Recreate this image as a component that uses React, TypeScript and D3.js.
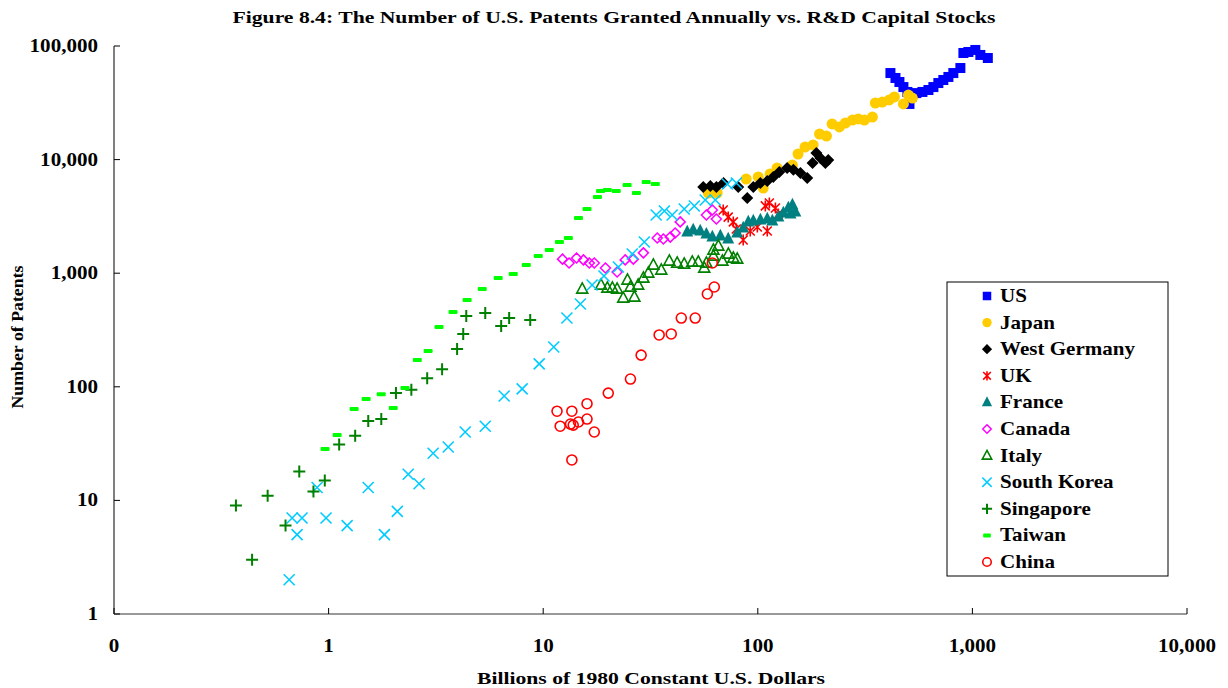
import React from "react";
import * as d3 from "d3";

type Pt = [number, number];

const US: Pt[] = [[415,57800],[438,52300],[457,48200],[477,43500],[498,39400],[520,35600],[509,30900],[548,38500],[585,39400],[624,41000],[658,43500],[694,47200],[732,50200],[773,53400],[815,57800],[879,64000],[908,86800],[958,88600],[1032,92300],[1089,83400],[1180,78400]];
const JAPAN: Pt[] = [[58.8,5080],[64.7,5080],[88.3,6750],[100.5,7030],[106,5620],[114,7470],[123,8440],[145,8960],[154,11200],[166,12900],[181,13450],[194,16800],[209,16100],[222,20600],[240,19400],[256,21000],[276,22300],[294,22800],[314,22300],[342,23700],[353,31500],[380,32100],[410,33500],[433,35600],[477,30900],[503,37000],[525,34800]];
const WGERMANY: Pt[] = [[55.7,5740],[60.1,5860],[64.1,5740],[69.2,6220],[81.1,5740],[89.3,4590],[95.3,5740],[102.8,6220],[110.7,6480],[118,7030],[126,7780],[137,8440],[146.5,8130],[158,7620],[170,6890],[180,9330],[187.5,11430],[195.6,10330],[206.5,9330],[213,9910]];
const UK: Pt[] = [[69,3600],[72.8,3120],[76.9,2830],[79.4,2450],[85.5,1960],[92.2,2350],[99.5,2550],[108.4,3910],[113.2,4150],[110.7,2350],[120.8,3750],[124.7,3320]];
const FRANCE: Pt[] = [[46.9,2310],[50,2400],[53.9,2350],[57.6,2210],[61.4,2080],[66.9,2130],[72.8,2000],[80.2,2260],[85.5,2500],[90.3,2830],[95.3,2880],[102.8,2940],[110.7,3000],[116.9,2880],[124.7,3120],[131.5,3390],[138.8,3750],[145,3990],[149.6,3460],[142,3320]];
const CANADA: Pt[] = [[12.3,1330],[13.2,1230],[14.3,1360],[15.4,1310],[16.4,1230],[17.3,1230],[19.5,1110],[22.1,1025],[24.1,1310],[26.3,1330],[29.3,1510],[34,2040],[36.3,2000],[39.1,2080],[41.2,2260],[43.5,2830],[57.6,3250],[61.4,3600],[64.1,3000]];
const ITALY: Pt[] = [[15.2,726],[18.6,787],[19.9,741],[21,741],[22.1,726],[23.6,605],[24.7,871],[25.5,756],[26.6,617],[27.7,787],[29.3,907],[30.9,1004],[32.6,1181],[35.5,1067],[38.7,1280],[42.1,1230],[45.4,1205],[49.5,1255],[52.8,1255],[56.3,1111],[57.6,1230],[62.1,1600],[65.5,1735],[62.1,1417],[68.4,1280],[72.9,1476],[76.9,1361],[80.2,1334]];
const SKOREA: Pt[] = [[0.655,2],[0.713,5],[0.752,7],[0.676,7],[0.973,7],[1.22,6],[0.884,13],[1.53,13],[1.82,5],[2.09,8],[2.35,17],[2.64,14],[3.07,26],[3.61,29.5],[4.33,40],[5.37,45],[6.58,83],[7.98,96],[9.58,159],[11.2,224],[12.9,403],[14.9,535],[16.9,787],[19.2,945],[22.4,1134],[26,1476],[29.6,1883],[33.6,3252],[36.7,3530],[39.9,3252],[45.4,3674],[50.6,3908],[56.9,4410],[63.4,4410],[72.1,6100],[79.4,6220]];
const SINGAPORE: Pt[] = [[0.37,9],[0.44,3],[0.52,11],[0.63,6],[0.73,18],[0.85,12],[0.96,15],[1.12,31],[1.33,37],[1.53,50],[1.76,52],[2.06,88],[2.43,94],[2.88,119],[3.38,143],[3.97,215],[4.24,292],[4.38,420],[5.37,447],[6.37,343],[6.94,403],[8.7,387]];
const TAIWAN: Pt[] = [[0.963,28.3],[1.096,37.6],[1.315,63.8],[1.496,78],[1.758,86],[2.0,65],[2.27,97.6],[2.59,172],[2.91,207],[3.27,336],[3.8,455],[4.42,581],[5.2,726],[6.17,907],[7.25,984],[8.34,1181],[9.48,1417],[10.67,1600],[11.9,1883],[13.1,2042],[14.6,3061],[16.0,3674],[17.9,4690],[18.5,5290],[19.9,5400],[21.9,5290],[24.6,5976],[27.2,5080],[30.2,6350],[33.3,6100]];
const CHINA: Pt[] = [[11.6,61],[12.0,45],[13.4,47],[13.8,46],[14.6,49],[13.6,61],[16.0,71],[16.0,52],[17.3,40],[13.6,22.7],[20.1,88],[25.5,117],[28.6,190],[34.7,286],[39.5,292],[44,403],[51.1,403],[58.2,656],[62.7,756],[61.4,1230]];

const SERIES_NAMES = ["US","Japan","West Germany","UK","France","Canada","Italy","South Korea","Singapore","Taiwan","China"];
const SERIES_DATA = [US, JAPAN, WGERMANY, UK, FRANCE, CANADA, ITALY, SKOREA, SINGAPORE, TAIWAN, CHINA];
const SERIES_COLORS = ["#0000ff","#ffcc00","#000000","#ff0000","#008080","#ff00ff","#008000","#00ccff","#008000","#00ff00","#ff0000"];
const SERIES_MARKERS = ["square","circle","diamond","asterisk","triangle","odiamond","otriangle","x","plus","dash","ocircle"];

const X_TICKS = [0.1, 1, 10, 100, 1000, 10000];
const X_TICK_LABELS = ["0", "1", "10", "100", "1,000", "10,000"];
const Y_TICKS = [1, 10, 100, 1000, 10000, 100000];
const Y_TICK_LABELS = ["1", "10", "100", "1,000", "10,000", "100,000"];

const FONT = "'Liberation Serif', 'Times New Roman', serif";
const SX = 1.17;

function Marker({ kind, x, y, color, s = 1 }: { kind: string; x: number; y: number; color: string; s?: number }) {
  switch (kind) {
    case "square": {
      const h = 5 * s;
      return <rect x={x - h} y={y - h} width={2 * h} height={2 * h} fill={color} />;
    }
    case "circle":
      return <circle cx={x} cy={y} r={5.5 * s} fill={color} />;
    case "diamond": {
      const h = 6 * s;
      return <path d={`M${x},${y - h}L${x + h},${y}L${x},${y + h}L${x - h},${y}Z`} fill={color} />;
    }
    case "asterisk": {
      const h = 5.5 * s;
      const d = 4.5 * s;
      return (
        <path
          d={`M${x},${y - h}V${y + h}M${x - d},${y - d}L${x + d},${y + d}M${x + d},${y - d}L${x - d},${y + d}`}
          stroke={color}
          strokeWidth={1.6}
          fill="none"
        />
      );
    }
    case "triangle": {
      const h = 6 * s;
      return <path d={`M${x},${y - 1.2 * h}L${x + h},${y + 0.75 * h}L${x - h},${y + 0.75 * h}Z`} fill={color} />;
    }
    case "odiamond": {
      const h = 5 * s;
      return <path d={`M${x},${y - h}L${x + h},${y}L${x},${y + h}L${x - h},${y}Z`} fill="none" stroke={color} strokeWidth={1.5} />;
    }
    case "otriangle": {
      const h = 5.5 * s;
      return <path d={`M${x},${y - 1.1 * h}L${x + h},${y + 0.75 * h}L${x - h},${y + 0.75 * h}Z`} fill="none" stroke={color} strokeWidth={1.6} />;
    }
    case "x": {
      const h = 5.5 * s;
      return (
        <path d={`M${x - h},${y - h}L${x + h},${y + h}M${x + h},${y - h}L${x - h},${y + h}`} stroke={color} strokeWidth={1.6} fill="none" />
      );
    }
    case "plus": {
      const h = 6 * s;
      return <path d={`M${x - h},${y}H${x + h}M${x},${y - h}V${y + h}`} stroke={color} strokeWidth={2} fill="none" />;
    }
    case "dash":
      return <rect x={x - 4.5 * s} y={y - 2} width={9 * s} height={4} rx={1} fill={color} />;
    case "ocircle":
      return <circle cx={x} cy={y} r={5 * s} fill="none" stroke={color} strokeWidth={1.6} />;
    default:
      return null;
  }
}

export default function App() {
  const left = 114, right = 1187, top = 46, bottom = 614;
  const x = d3.scaleLog().domain([0.1, 10000]).range([left, right]);
  const y = d3.scaleLog().domain([1, 100000]).range([bottom, top]);

  const legX = 947, legY = 282, legW = 221, legH = 294;
  const legStep = 26.6;

  return (
    <svg width={1228} height={688} style={{ position: "absolute", left: 0, top: 0, background: "#fff" }} fontFamily={FONT}>
      <rect width={1228} height={688} fill="#fff" />
      <text x={614} y={23} textAnchor="middle" fontWeight="bold" fontSize={17} textLength={763} lengthAdjust="spacingAndGlyphs">
        Figure 8.4: The Number of U.S. Patents Granted Annually vs. R&amp;D Capital Stocks
      </text>

      {/* axes */}
      <line x1={left} y1={top} x2={left} y2={bottom} stroke="#000" strokeWidth={1} />
      <line x1={left} y1={bottom} x2={right} y2={bottom} stroke="#777" strokeWidth={1.6} />
      {Y_TICKS.map((t, i) => (
        <g key={"yt" + i}>
          <line x1={left} x2={left + 6} y1={y(t)} y2={y(t)} stroke="#000" />
          <text
            transform={`translate(98,${y(t) + 6}) scale(${SX},1)`}
            textAnchor="end"
            fontWeight="bold"
            fontSize={18}
          >
            {Y_TICK_LABELS[i]}
          </text>
        </g>
      ))}
      {X_TICKS.map((t, i) => (
        <g key={"xt" + i}>
          <line x1={x(t)} x2={x(t)} y1={bottom} y2={bottom - 6} stroke="#000" />
          <text
            transform={`translate(${x(t)},${652}) scale(${SX},1)`}
            textAnchor="middle"
            fontWeight="bold"
            fontSize={18}
          >
            {X_TICK_LABELS[i]}
          </text>
        </g>
      ))}
      <text x={651} y={684} textAnchor="middle" fontWeight="bold" fontSize={17} textLength={348} lengthAdjust="spacingAndGlyphs">
        Billions of 1980 Constant U.S. Dollars
      </text>
      <text
        transform={`translate(23,337) rotate(-90)`}
        textAnchor="middle"
        fontWeight="bold"
        fontSize={17}
        textLength={143}
        lengthAdjust="spacingAndGlyphs"
      >
        Number of Patents
      </text>

      {/* data */}
      {SERIES_DATA.map((data, si) => (
        <g key={"s" + si}>
          {data.map((d, j) => (
            <Marker key={j} kind={SERIES_MARKERS[si]} x={x(d[0])} y={y(d[1])} color={SERIES_COLORS[si]} />
          ))}
        </g>
      ))}

      {/* legend */}
      <rect x={legX} y={legY} width={legW} height={legH} fill="#fff" stroke="#000" strokeWidth={1} />
      {SERIES_NAMES.map((name, i) => {
        const cy = 296 + i * legStep;
        return (
          <g key={"l" + i}>
            <Marker kind={SERIES_MARKERS[i]} x={987} y={cy} color={SERIES_COLORS[i]} s={0.85} />
            <text transform={`translate(1000,${cy + 6}) scale(${SX},1)`} fontWeight="bold" fontSize={18}>
              {name}
            </text>
          </g>
        );
      })}
    </svg>
  );
}
